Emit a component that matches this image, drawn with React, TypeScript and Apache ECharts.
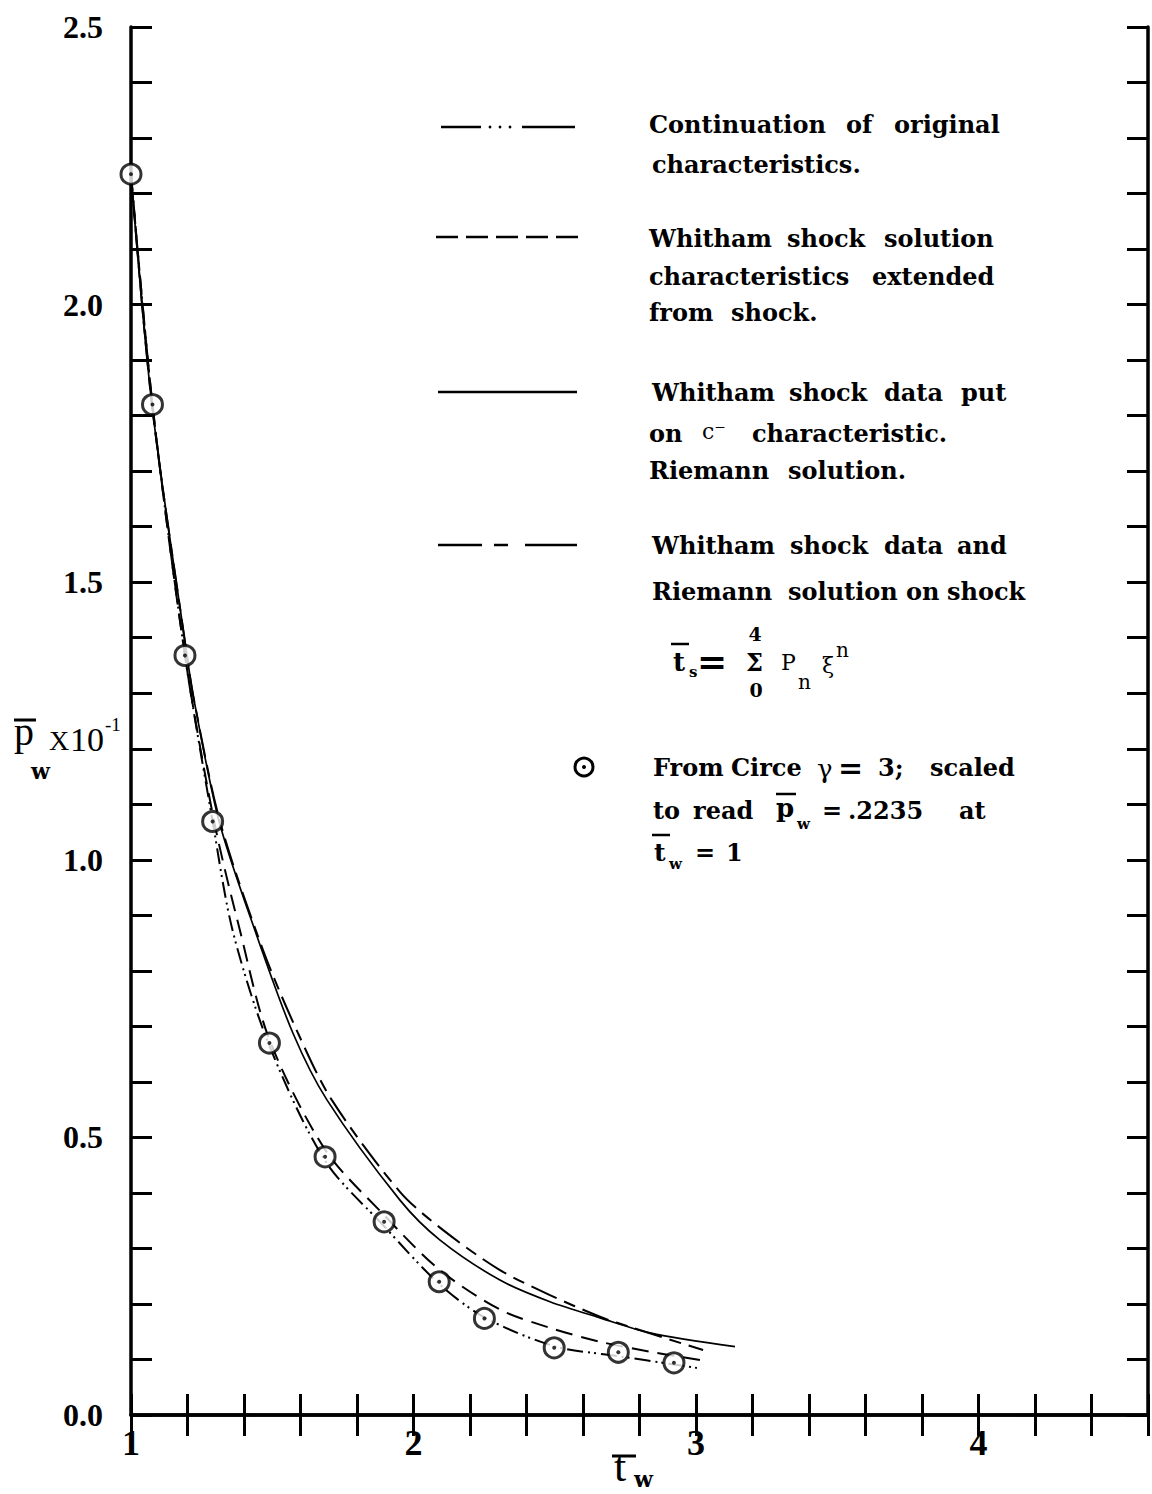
import React, { useEffect, useRef } from "react";
import * as echarts from "echarts";

// ---- tick labels ----
const xTickLabels = ["1", "2", "3", "4"];
const yTickLabels = ["0.0", "0.5", "1.0", "1.5", "2.0", "2.5"];

// ---- data: From Circe, gamma = 3 (circles) ----
const circeX = [1.0, 1.076, 1.191, 1.289, 1.49, 1.687, 1.896, 2.091, 2.251, 2.498, 2.725, 2.922];
const circeY = [2.235, 1.82, 1.368, 1.069, 0.67, 0.465, 0.348, 0.24, 0.174, 0.121, 0.113, 0.094];

// ---- Continuation of original characteristics (dash-dot-dot) ----
const contX = [1.0, 1.076, 1.191, 1.289, 1.361, 1.49, 1.687, 1.896, 2.091, 2.251, 2.498, 2.725, 2.922, 3.014];
const contY = [2.235, 1.82, 1.368, 1.069, 0.87, 0.665, 0.458, 0.34, 0.236, 0.176, 0.124, 0.106, 0.091, 0.084];

// ---- Whitham shock solution characteristics extended from shock (dashed) ----
const charX = [1.0, 1.076, 1.191, 1.294, 1.386, 1.49, 1.687, 1.896, 2.091, 2.306, 2.483, 2.66, 2.837, 3.014];
const charY = [2.235, 1.82, 1.368, 1.07, 0.872, 0.676, 0.478, 0.36, 0.262, 0.19, 0.157, 0.132, 0.114, 0.099];

// ---- Whitham shock data on c- characteristic, Riemann solution (solid) ----
const riemX = [1.0, 1.074, 1.198, 1.223, 1.312, 1.442, 1.573, 1.693, 1.952, 2.094, 2.306, 2.483, 2.66, 2.837, 3.138];
const riemY = [2.235, 1.82, 1.368, 1.288, 1.069, 0.868, 0.688, 0.568, 0.387, 0.315, 0.243, 0.204, 0.175, 0.148, 0.123];

// ---- Whitham shock data and Riemann solution on shock (long-short dash) ----
const shockX = [1.0, 1.074, 1.198, 1.223, 1.315, 1.467, 1.591, 1.71, 1.952, 2.105, 2.306, 2.483, 2.66, 2.777, 3.025];
const shockY = [2.235, 1.82, 1.368, 1.288, 1.069, 0.838, 0.688, 0.568, 0.402, 0.333, 0.261, 0.216, 0.177, 0.157, 0.117];

const pairs = (xs: number[], ys: number[]) => xs.map((x, i) => [x, ys[i]]);

const SERIF = '"DejaVu Serif", serif';
const TIMES = '"Liberation Serif", serif';

function T(text: string, x: number, y: number, size: number, weight = "bold", family = SERIF, align = "left") {
  return {
    type: "text",
    x,
    y,
    z: 100,
    style: {
      text,
      fill: "#000",
      font: `${weight} ${size}px ${family}`,
      textAlign: align,
      textVerticalAlign: "middle",
      align,
      verticalAlign: "middle",
    },
  };
}

function L(x1: number, y1: number, x2: number, y2: number, w = 2, dash?: number[]) {
  return {
    type: "line",
    z: 100,
    shape: { x1, y1, x2, y2 },
    style: { stroke: "#000", lineWidth: w, lineDash: dash },
  };
}

const legendWords: [string, number, number][] = [
  ["Continuation", 649, 124], ["of", 846, 124], ["original", 894, 124],
  ["characteristics.", 652, 164],
  ["Whitham", 649, 238], ["shock", 787, 238], ["solution", 884, 238],
  ["characteristics", 649, 276], ["extended", 872, 276],
  ["from", 649, 312], ["shock.", 731, 312],
  ["Whitham", 652, 392], ["shock", 789, 392], ["data", 884, 392], ["put", 961, 392],
  ["on", 649, 433], ["characteristic.", 752, 433],
  ["Riemann", 649, 470], ["solution.", 788, 470],
  ["Whitham", 652, 545], ["shock", 790, 545], ["data", 884, 545], ["and", 957, 545],
  ["Riemann", 652, 591], ["solution", 788, 591], ["on", 906, 591], ["shock", 947, 591],
  ["From", 653, 767], ["Circe", 731, 767], ["3;", 878, 767], ["scaled", 930, 767],
  ["to", 653, 810], ["read", 693, 810], ["=", 822, 810], [".2235", 848, 810], ["at", 959, 810],
  ["=", 695, 852], ["1", 726, 852],
];

export default function App() {
  const ref = useRef<HTMLDivElement>(null);

  useEffect(() => {
    if (!ref.current) return;
    const chart = echarts.init(ref.current, null, { renderer: "svg" });

    const findLabel = (labels: string[], v: number) => {
      const s = labels.find((l) => Math.abs(Number(l) - v) < 1e-6);
      return s === undefined ? "" : s;
    };

    const axisLineStyle = { show: true, lineStyle: { color: "#000", width: 3.5 } };
    const tick = { show: true, inside: true, length: 21, lineStyle: { color: "#000", width: 3 } };

    const xBase = {
      type: "value",
      min: 1,
      max: 4.6,
      interval: 0.2,
      axisLine: axisLineStyle,
      axisTick: tick,
      splitLine: { show: false },
    };
    const yBase = {
      type: "value",
      min: 0,
      max: 2.5,
      interval: 0.1,
      axisLine: axisLineStyle,
      axisTick: tick,
      splitLine: { show: false },
    };

    const graphics: any[] = [];
    // legend samples
    graphics.push(L(441, 127, 481, 127, 2.5));
    graphics.push({ type: "circle", z: 100, shape: { cx: 490, cy: 127, r: 1.4 }, style: { fill: "#000" } });
    graphics.push({ type: "circle", z: 100, shape: { cx: 500, cy: 127, r: 1.4 }, style: { fill: "#000" } });
    graphics.push({ type: "circle", z: 100, shape: { cx: 510, cy: 127, r: 1.4 }, style: { fill: "#000" } });
    graphics.push(L(522, 127, 575, 127, 2.5));
    graphics.push(L(436, 237, 580, 237, 2.5, [22, 8]));
    graphics.push(L(438, 392, 577, 392, 2.5));
    graphics.push(L(438, 545, 482, 545, 2.5));
    graphics.push(L(494, 545, 508, 545, 2.5));
    graphics.push(L(525, 545, 577, 545, 2.5));
    // legend circle marker
    graphics.push({ type: "circle", z: 100, shape: { cx: 584, cy: 767, r: 9 }, style: { fill: "#fff", stroke: "#000", lineWidth: 3 } });
    graphics.push({ type: "circle", z: 101, shape: { cx: 584, cy: 767, r: 2 }, style: { fill: "#000" } });

    // legend words
    legendWords.forEach(([t, x, y]) => graphics.push(T(t, x, y, 24)));
    graphics.push(T("γ", 817, 769, 26, "normal"));
    graphics.push(T("=", 838, 767, 30));
    graphics.push(T("c⁻", 702, 431, 22, "normal"));
    // p̄w in "to read"
    graphics.push(T("p", 776, 808, 26));
    graphics.push(L(776, 794, 796, 794, 2.5));
    graphics.push(T("w", 797, 824, 15));
    // t̄w = 1
    graphics.push(T("t", 654, 852, 25));
    graphics.push(L(652, 835, 670, 835, 2.5));
    graphics.push(T("w", 669, 864, 15));

    // formula t̄s = Σ Pn ξ^n
    graphics.push(T("t", 673, 662, 26));
    graphics.push(L(671, 644, 689, 644, 2.5));
    graphics.push(T("s", 689, 672, 15));
    graphics.push(T("=", 697, 661, 36));
    graphics.push(T("Σ", 746, 662, 24));
    graphics.push(T("4", 755, 634, 19, "bold", SERIF, "center"));
    graphics.push(T("0", 756, 690, 19, "bold", SERIF, "center"));
    graphics.push(T("P", 781, 662, 22, "normal"));
    graphics.push(T("n", 798, 682, 20, "normal"));
    graphics.push(T("ξ", 822, 665, 22, "normal"));
    graphics.push(T("n", 836, 650, 20, "normal"));

    // y-axis name: p̄w X 10^-1
    graphics.push(T("p", 14, 731, 40, "normal", TIMES));
    graphics.push(L(14, 720, 36, 720, 3));
    graphics.push(T("w", 31, 771, 22));
    graphics.push(T("X", 49, 740, 28, "normal", TIMES));
    graphics.push(T("10", 70, 739, 34, "normal", TIMES));
    graphics.push(T("-1", 105, 724, 19, "normal", TIMES));

    // x-axis name: t̄w
    graphics.push(T("t", 614, 1466, 44, "normal", TIMES));
    graphics.push(L(612, 1456, 636, 1456, 3));
    graphics.push(T("w", 634, 1479, 22));

    const lineSeries = (name: string, xs: number[], ys: number[], type: any, width: number) => ({
      name,
      type: "line",
      data: pairs(xs, ys),
      showSymbol: false,
      symbol: "none",
      smooth: 0.3,
      lineStyle: { color: "#000", width, type },
      z: 3,
    });

    chart.setOption({
      animation: false,
      backgroundColor: "#fff",
      grid: { left: 131, right: 4, top: 27, bottom: 79, outerBoundsMode: "none" },
      xAxis: [
        {
          ...xBase,
          position: "bottom",
          axisLabel: {
            formatter: (v: number) => findLabel(xTickLabels, v),
            color: "#000",
            fontFamily: TIMES,
            fontWeight: "bold",
            fontSize: 36,
            margin: 10,
          },
        },
        { ...xBase, position: "top", axisLabel: { show: false } },
      ],
      yAxis: [
        {
          ...yBase,
          position: "left",
          axisLabel: {
            formatter: (v: number) => findLabel(yTickLabels, v),
            color: "#000",
            fontFamily: TIMES,
            fontWeight: "bold",
            fontSize: 32,
            margin: 28,
          },
        },
        { ...yBase, position: "right", axisLabel: { show: false } },
      ],
      series: [
        lineSeries("Continuation of original characteristics", contX, contY, [16, 5, 2, 4, 2, 5], 2),
        lineSeries("Whitham shock solution characteristics extended from shock", charX, charY, [17, 9], 2),
        lineSeries("Whitham shock data put on c- characteristic. Riemann solution", riemX, riemY, "solid", 1.7),
        lineSeries("Whitham shock data and Riemann solution on shock", shockX, shockY, [28, 8, 12, 8], 2),
        {
          name: "From Circe",
          type: "scatter",
          data: pairs(circeX, circeY),
          symbol: "circle",
          symbolSize: 20,
          itemStyle: { color: "#fff", borderColor: "#000", borderWidth: 3 },
          z: 5,
        },
        {
          name: "From Circe centre",
          type: "scatter",
          data: pairs(circeX, circeY),
          symbol: "circle",
          symbolSize: 4,
          itemStyle: { color: "#000" },
          z: 6,
        },
      ],
      graphic: graphics,
    });

    return () => chart.dispose();
  }, []);

  return (
    <div
      ref={ref}
      style={{ position: "absolute", left: 0, top: 0, width: 1152, height: 1494, background: "#fff" }}
    />
  );
}
